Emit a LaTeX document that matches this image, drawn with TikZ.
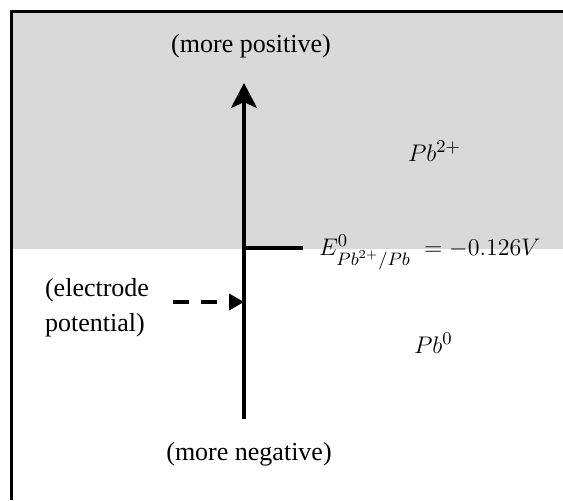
\documentclass[tikz,border=0pt]{standalone}
\usepackage{fontspec}
\setmainfont{Liberation Serif}
\usetikzlibrary{arrows.meta}
\definecolor{bandgray}{HTML}{D9D9D9}
\tikzset{
  lbl/.style={font=\fontsize{13}{17.5}\selectfont, inner sep=0pt},
  ion/.style={font=\fontsize{13}{15}\selectfont, inner sep=0pt},
}
\begin{document}
\begin{tikzpicture}[x=0.5pt, y=-0.5pt, line width=2pt]
  \useasboundingbox (0,0) rectangle (563,500);
  % oxidised region and frame
  \fill[bandgray] (11,11) rectangle (563,249);
  \draw[line width=1.5pt] (11,500) -- (11,11) -- (563,11);

  % potential axis
  \coordinate (low) at (244,419);
  \coordinate (high) at (244,83);
  \coordinate (e0) at (244,248);
  \coordinate (tickend) at (303,248);
  \coordinate (hit) at (244,302);
  \coordinate (dashstart) at (173,302);
  \draw[-{Stealth[length=12.5pt, width=13pt, inset=3pt]}] (low) -- (high);
  \draw (e0) -- (tickend);

  % labels
  \node[lbl, anchor=base] (pos) at (251,52) {(more positive)};
  \node[lbl, anchor=base] (neg) at (249,460) {(more negative)};
  \node[lbl, align=left, anchor=east] (elec) at (151,308) {(electrode\\potential)};
  \node[ion, anchor=base west] (elabel) at (317,255)
    {$E^{0}_{\raisebox{-2.5pt}{$\scriptstyle Pb^{2+}/Pb$}}\;=-0.126V$};
  \node[ion, anchor=base west] (ox) at (406,161) {$Pb^{2+}$};
  \node[ion, anchor=base west] (red) at (412,353) {$Pb^{0}$};

  % dashed pointer to the axis
  \draw[dash pattern=on 8pt off 6pt, -{Triangle[length=7.5pt, width=8pt]}] (dashstart) -- (hit);
\end{tikzpicture}
\end{document}
